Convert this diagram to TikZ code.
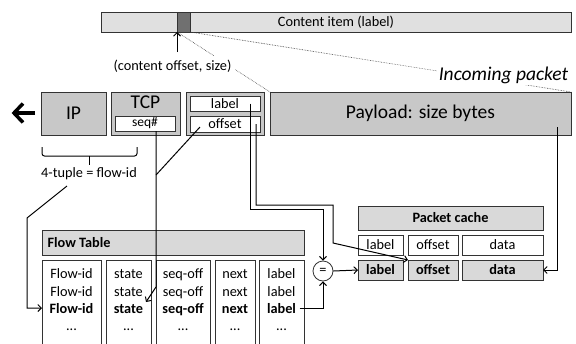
\documentclass[tikz,border=0pt]{standalone}
\usepackage{fontspec}
\setmainfont{Carlito}
\usetikzlibrary{arrows.meta}
\definecolor{pktGray}{HTML}{C8C8C8}
\definecolor{hdrGray}{HTML}{D9D9D9}
\definecolor{barGray}{HTML}{E0E0E0}
\definecolor{segGray}{HTML}{707070}
\begin{document}
\begin{tikzpicture}[x=1pt,y=-1pt, font=\fontsize{14.3}{16}\selectfont,
  box/.style={draw=black!80, line width=0.8pt, inner sep=0pt, outer sep=0pt, rectangle},
  pkt/.style={box, fill=pktGray},
  wbox/.style={box, fill=white},
  gbox/.style={box, fill=hdrGray},
  conn/.style={line width=1pt, -{Straight Barb[length=3.5pt,width=7pt]}},
  plainline/.style={line width=1pt},
  dotline/.style={densely dotted, line width=0.6pt, black!75},
  big/.style={font=\fontsize{19.5}{22}\selectfont},
  boldtxt/.style={font=\fontsize{14.3}{16}\selectfont\bfseries},
]
\useasboundingbox (0,0) rectangle (576,343);
\fill[white] (0,0) rectangle (576,343);
\clip (0,0) rectangle (576,343);

% content item bar
\node[box, fill=barGray, minimum width=470pt, minimum height=20pt] (bar) at (336,22) {Content item (label)};
\node[box, fill=segGray, minimum width=13pt, minimum height=20pt] (seg) at (183.5,22) {};

% packet
\node[pkt, big, minimum width=65pt, minimum height=43pt] (ip) at (73.5,113.5) {IP};
\node[pkt, minimum width=69pt, minimum height=43pt] (tcp) at (145.5,113.5) {};
\node[big, inner sep=0pt] (tcpt) at (145.5,102) {TCP};
\node[wbox, minimum width=60pt, minimum height=15pt, font=\fontsize{13.5}{14}\selectfont] (seq) at (145,123.5) {seq\#};
\node[pkt, minimum width=78pt, minimum height=43pt] (lo) at (225,113.5) {};
\node[wbox, minimum width=70pt, minimum height=15pt] (lab) at (225,103.5) {label};
\node[wbox, minimum width=70pt, minimum height=16pt] (off) at (225,124) {offset};
\node[pkt, big, minimum width=301pt, minimum height=43pt] (pay) at (420.5,113.5) {Payload: size bytes};

% zoom lines
\draw[dotline] (seg.south west) -- (pay.north west);
\draw[dotline] (seg.south east) -- (pay.north east);
\node[fill=white, inner sep=4pt] (cos) at (172.5,66) {(content offset, size)};
\node[fill=white, inner sep=2pt, font=\fontsize{19.5}{22}\selectfont\itshape] (inc) at (503.5,75) {Incoming packet};
\coordinate (ua) at (177,52);
\draw[conn] (ua) -- (seg.south west);

% outgoing arrow
\coordinate (outa) at (35,113);
\coordinate (outb) at (14,113);
\draw[line width=3.5pt] (outa) -- (outb);
\draw[line width=3.5pt, miter limit=10] ([shift={(9,-9.5)}]outb) -- (outb) -- ([shift={(9,9.5)}]outb);

% brace
\draw[line width=1pt, rounded corners=2.5pt] (42,147) -- (42,156) -- (137,156) -- (137,147);
\draw[line width=1.4pt] (89.5,156) -- (89.5,165);
\node (tup) at (89,174) {4-tuple = flow-id};

% flow table
\node[gbox, minimum width=262pt, minimum height=25pt] (fth) at (173,242.5) {};
\node[boldtxt, anchor=west] (ftt) at (44,243) {Flow Table};
\foreach \n/\cx/\w/\txt in {1/71.5/59/Flow-id, 2/128.5/45/state, 3/183/54/seq-off, 4/235/40/next, 5/281.5/45/label} {
  \node[wbox, minimum width=\w pt, minimum height=90pt] (c\n) at (\cx,305) {};
  \node[anchor=base] (t\n a) at (\cx,278) {\txt};
  \node[anchor=base] (t\n b) at (\cx,296) {\txt};
  \node[anchor=base, boldtxt] (t\n c) at (\cx,313) {\txt};
  \node[anchor=base] (t\n d) at (\cx,330) {...};
}

% packet cache
\node[gbox, boldtxt, minimum width=185pt, minimum height=24pt] (pch) at (450.5,218) {Packet cache};
\node[wbox, minimum width=45pt, minimum height=20pt] (cl1) at (380.5,245) {label};
\node[wbox, minimum width=50pt, minimum height=20pt] (co1) at (433,245) {offset};
\node[wbox, minimum width=81pt, minimum height=20pt] (cd1) at (502.5,245) {data};
\node[gbox, boldtxt, minimum width=45pt, minimum height=20pt] (cl2) at (380.5,270) {label};
\node[gbox, boldtxt, minimum width=50pt, minimum height=20pt] (co2) at (433,270) {offset};
\node[gbox, boldtxt, minimum width=81pt, minimum height=20pt] (cd2) at (502.5,270) {data};

% comparator
\node[circle, draw=black!80, line width=0.8pt, fill=white, minimum size=20pt, inner sep=0pt] (eq) at (323,271) {=};

% connectors
\draw[conn] ([xshift=25pt]lab.center) -- ++(0,105.5) -| (eq.north);
\draw[conn] ([xshift=31pt]off.center) -- ++(0,81) -- ++(77,0) -- ++(0,38) -- (co2.north west);
\draw[conn] (t5c.east) -| (eq.south);
\draw[conn] (eq.east) -- (cl2.west);
\draw[conn] ([shift={(136.5,13.5)}]pay.center) |- (cd2.east);

\coordinate (sqa) at (156,287);
\coordinate (sqb) at (146,302);
\draw[conn] ([xshift=11pt]seq.south) -- (sqa) -- (sqb);
\coordinate (sj) at (156,175);
\draw[plainline] ([shift={(-25,3)}]off.center) -- (sj);

\coordinate (tpa) at (67,186);
\coordinate (tpb) at (27,218);
\draw[conn] (tpa) -- (tpb) |- (c1.west |- t1c.center);
\end{tikzpicture}
\end{document}
